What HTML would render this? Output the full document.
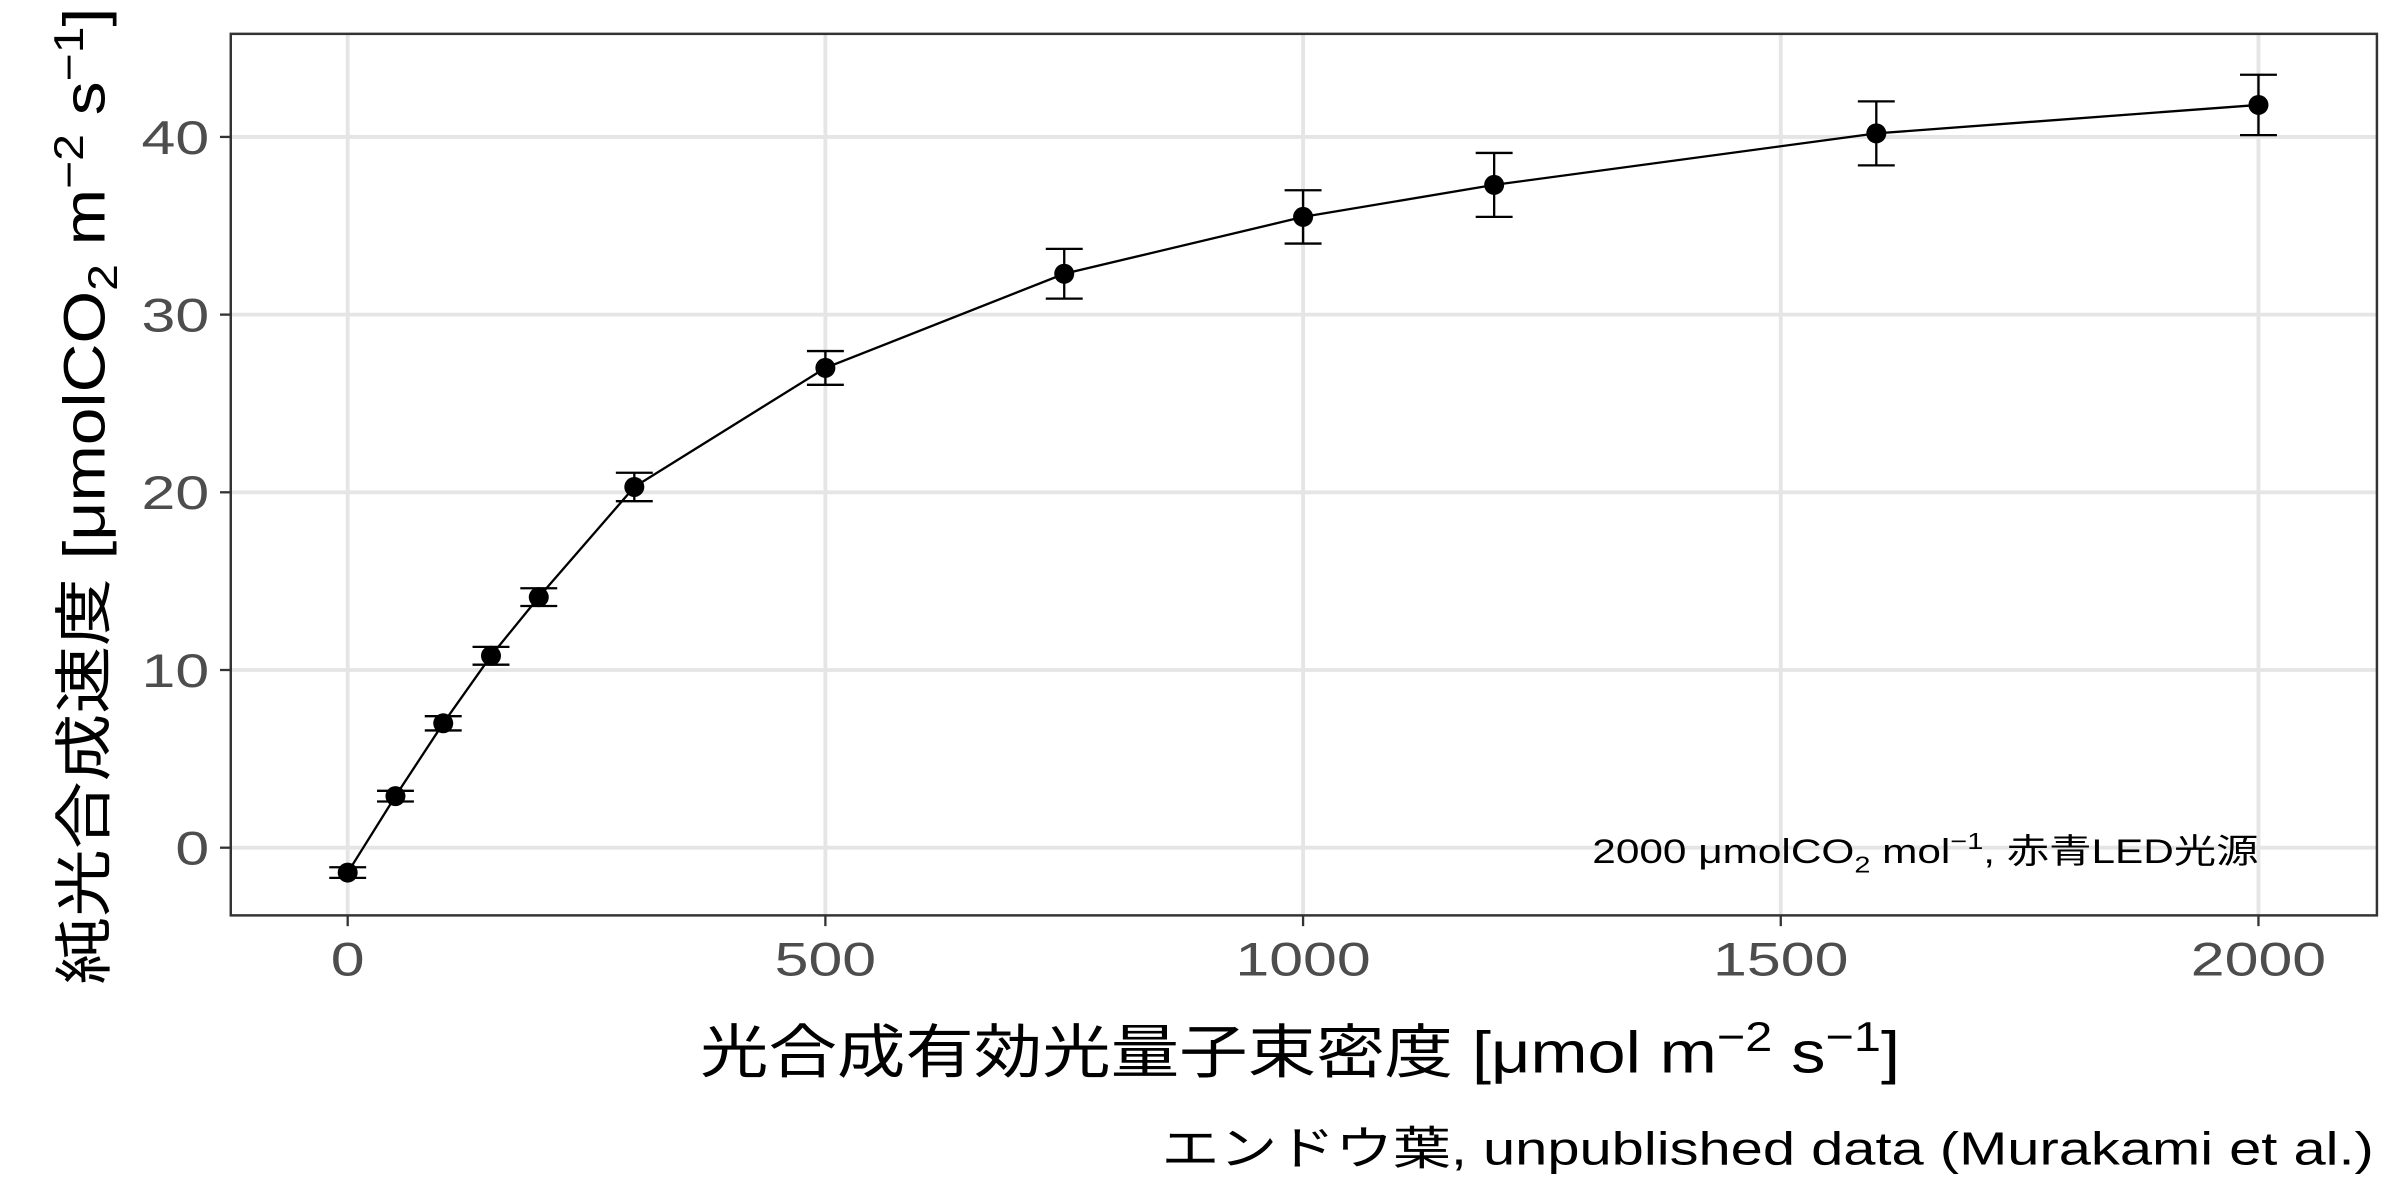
<!DOCTYPE html>
<html><head><meta charset="utf-8"><style>
html,body{margin:0;padding:0;background:#fff}
svg{display:block}
text{font-family:"Liberation Sans","Noto Sans CJK JP",sans-serif}
</style></head><body>
<svg id="chart" width="2400" height="1200" viewBox="0 0 1560 780" xmlns="http://www.w3.org/2000/svg">
<rect x="0" y="0" width="1560" height="780" fill="#fff"/>
<g id="grid"></g>
<g id="series"></g>
<rect x="150" y="22" width="1395" height="573" fill="none" stroke="#333" stroke-width="1.6"/>
<g id="axes"></g>
<text x="1035" y="561" textLength="433" lengthAdjust="spacingAndGlyphs" font-size="22" fill="#000">2000 μmolCO<tspan font-size="15" dy="6">2</tspan><tspan dy="-6"> mol</tspan><tspan font-size="15" dy="-9">−1</tspan><tspan dy="9">, 赤青LED光源</tspan></text>
<text x="455" y="697" textLength="780" lengthAdjust="spacingAndGlyphs" font-size="38" fill="#000">光合成有効光量子束密度 [μmol m<tspan font-size="27" dy="-14">−2</tspan><tspan dy="14"> s</tspan><tspan font-size="27" dy="-14">−1</tspan><tspan dy="14">]</tspan></text>
<text transform="translate(68,640) rotate(-90)" textLength="635" lengthAdjust="spacingAndGlyphs" font-size="38" fill="#000">純光合成速度 [μmolCO<tspan font-size="27" dy="8">2</tspan><tspan dy="-8"> m</tspan><tspan font-size="27" dy="-14">−2</tspan><tspan dy="14"> s</tspan><tspan font-size="27" dy="-14">−1</tspan><tspan dy="14">]</tspan></text>
<text x="755" y="757" textLength="788" lengthAdjust="spacingAndGlyphs" font-size="30" fill="#000">エンドウ葉, unpublished data (Murakami et al.)</text>
</svg>
<script>
const ppfd = [0, 50, 100, 150, 200, 300, 500, 750, 1000, 1200, 1600, 2000];
const netRate = [-1.4, 2.9, 7.0, 10.8, 14.1, 20.3, 27.0, 32.3, 35.5, 37.3, 40.2, 41.8];
const errRate = [0.3, 0.3, 0.4, 0.5, 0.5, 0.8, 0.95, 1.4, 1.5, 1.8, 1.8, 1.7];
const xTicks = [0, 500, 1000, 1500, 2000];
const yTicks = [0, 10, 20, 30, 40];

const NS = 'http://www.w3.org/2000/svg';
function xs(v){ return 226 + (v - 0) * (1468 - 226) / 2000; }
function ys(v){ return 551 - v * (551 - 89) / 40; }
function mk(tag, attrs, parent){ const e = document.createElementNS(NS, tag); for (const k in attrs) e.setAttribute(k, attrs[k]); parent.appendChild(e); return e; }

const grid = document.getElementById('grid');
const axes = document.getElementById('axes');
const series = document.getElementById('series');

yTicks.forEach(t => {
  const l = mk('line', {x1:150, x2:1545, y1:ys(t), y2:ys(t), stroke:'#e5e5e5', 'stroke-width':2.5}, grid);
  
  
  const tk = mk('line', {x1:143, x2:150, y1:ys(t), y2:ys(t), stroke:'#333', 'stroke-width':1.5}, axes);
  
  
  const s = String(t);
  const tx = mk('text', {x:136, y:ys(t) + 11, 'text-anchor':'end', 'font-size':31, fill:'#4d4d4d', textLength:22*s.length, lengthAdjust:'spacingAndGlyphs'}, axes);
  tx.textContent = s;
  
  
});
xTicks.forEach(t => {
  const l = mk('line', {x1:xs(t), x2:xs(t), y1:22, y2:595, stroke:'#e5e5e5', 'stroke-width':2.5}, grid);
  
  
  const tk = mk('line', {x1:xs(t), x2:xs(t), y1:595, y2:602, stroke:'#333', 'stroke-width':1.5}, axes);
  
  
  const s = String(t);
  const tx = mk('text', {x:xs(t), y:634, 'text-anchor':'middle', 'font-size':31, fill:'#4d4d4d', textLength:22*s.length, lengthAdjust:'spacingAndGlyphs'}, axes);
  tx.textContent = s;
  
  
});

const pts = ppfd.map((x, i) => xs(x).toFixed(2) + ',' + ys(netRate[i]).toFixed(2)).join(' ');
const line = mk('polyline', {points:pts, fill:'none', stroke:'#000', 'stroke-width':1.5}, series);



ppfd.forEach((x, i) => {
  const cx = xs(x), lo = ys(netRate[i] - errRate[i]), hi = ys(netRate[i] + errRate[i]);
  const g = mk('g', {}, series);
  
  
  mk('line', {x1:cx, x2:cx, y1:lo, y2:hi, stroke:'#000', 'stroke-width':1.5}, g);
  mk('line', {x1:cx-12, x2:cx+12, y1:lo, y2:lo, stroke:'#000', 'stroke-width':1.5}, g);
  mk('line', {x1:cx-12, x2:cx+12, y1:hi, y2:hi, stroke:'#000', 'stroke-width':1.5}, g);
  const c = mk('circle', {cx:cx, cy:ys(netRate[i]), r:6.5, fill:'#000'}, series);
  
  
});
</script>
</body></html>
